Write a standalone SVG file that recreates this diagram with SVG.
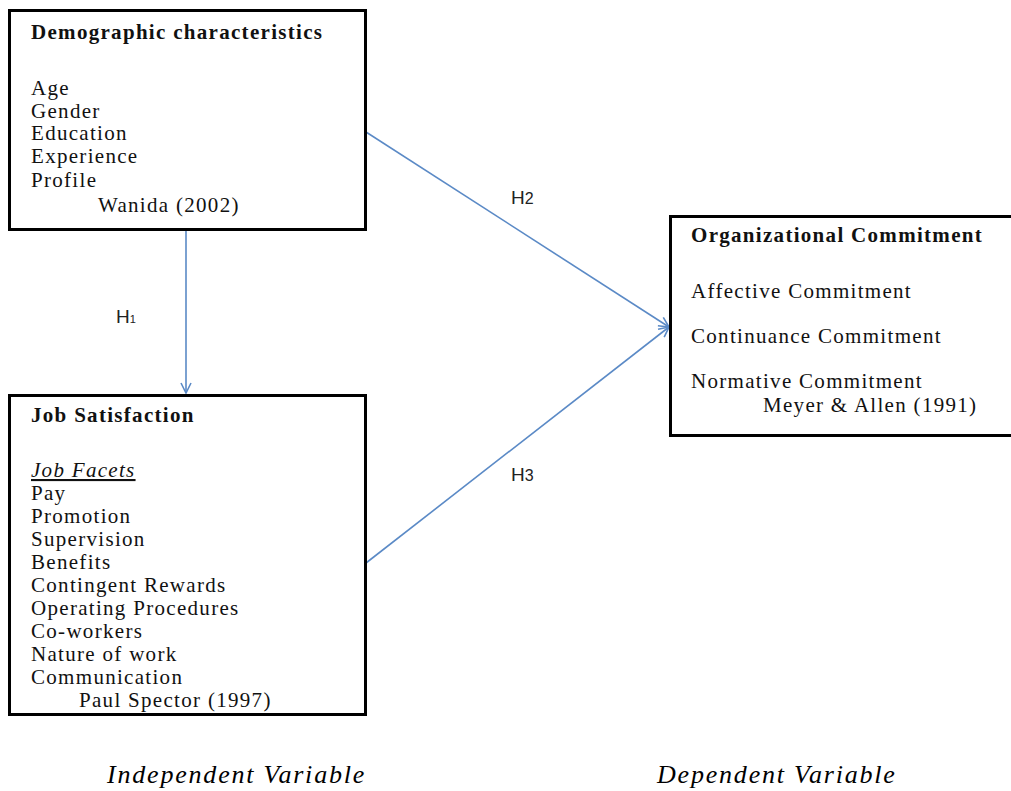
<svg xmlns="http://www.w3.org/2000/svg" width="1011" height="791" viewBox="0 0 1011 791">
<style>
.box{fill:#fff;stroke:#000;stroke-width:3}
.t{font-family:"Liberation Serif","Times New Roman",serif;font-size:21px;letter-spacing:1.3px;fill:#111}
.b{font-weight:bold}
.h{font-family:"Liberation Sans",Arial,sans-serif;font-size:19px;fill:#222}
.lab{font-family:"Liberation Serif","Times New Roman",serif;font-size:26px;letter-spacing:1.8px;font-style:italic;fill:#000}
.c{stroke:#5b8ac6;stroke-width:1.6;fill:none}
</style>
<defs>
<marker id="ah" viewBox="0 0 12 12" refX="11" refY="6" markerWidth="12" markerHeight="12" markerUnits="userSpaceOnUse" orient="auto">
<path d="M1,1 L11,6 L1,11" fill="none" stroke="#5b8ac6" stroke-width="1.6"/>
</marker>
</defs>
<g id="connectors">
<line class="c" x1="186" y1="230" x2="186" y2="393" marker-end="url(#ah)"/>
<line class="c" x1="366" y1="132" x2="669" y2="327" marker-end="url(#ah)"/>
<line class="c" x1="366" y1="563" x2="669" y2="327" marker-end="url(#ah)"/>
</g>
<g id="demographic">
<rect class="box" x="9.5" y="10.5" width="356" height="219"/>
<text class="t b" x="31" y="39">Demographic characteristics</text>
<text class="t" x="31" y="95">Age</text>
<text class="t" x="31" y="118">Gender</text>
<text class="t" x="31" y="140">Education</text>
<text class="t" x="31" y="163">Experience</text>
<text class="t" x="31" y="187">Profile</text>
<text class="t" x="98" y="212">Wanida (2002)</text>
</g>
<g id="jobsatisfaction">
<rect class="box" x="9.5" y="395.5" width="356" height="319"/>
<text class="t b" x="31" y="422">Job Satisfaction</text>
<text class="t" x="31" y="477" font-style="italic" text-decoration="underline">Job Facets</text>
<text class="t" x="31" y="500">Pay</text>
<text class="t" x="31" y="523">Promotion</text>
<text class="t" x="31" y="546">Supervision</text>
<text class="t" x="31" y="569">Benefits</text>
<text class="t" x="31" y="592">Contingent Rewards</text>
<text class="t" x="31" y="615">Operating Procedures</text>
<text class="t" x="31" y="638">Co-workers</text>
<text class="t" x="31" y="661">Nature of work</text>
<text class="t" x="31" y="684">Communication</text>
<text class="t" x="79" y="707">Paul Spector (1997)</text>
</g>
<g id="commitment">
<rect class="box" x="670.5" y="216.5" width="343" height="219"/>
<text class="t b" x="691" y="242">Organizational Commitment</text>
<text class="t" x="691" y="298">Affective Commitment</text>
<text class="t" x="691" y="343">Continuance Commitment</text>
<text class="t" x="691" y="388">Normative Commitment</text>
<text class="t" x="763" y="412">Meyer &amp; Allen (1991)</text>
</g>
<g id="hlabels">
<text class="h" x="116" y="323">H<tspan font-size="11">1</tspan></text>
<text class="h" x="511" y="204">H<tspan font-size="16">2</tspan></text>
<text class="h" x="511" y="481">H<tspan font-size="16">3</tspan></text>
</g>
<g id="labels">
<text class="lab" x="107" y="783">Independent Variable</text>
<text class="lab" x="657" y="783">Dependent Variable</text>
</g>
</svg>
